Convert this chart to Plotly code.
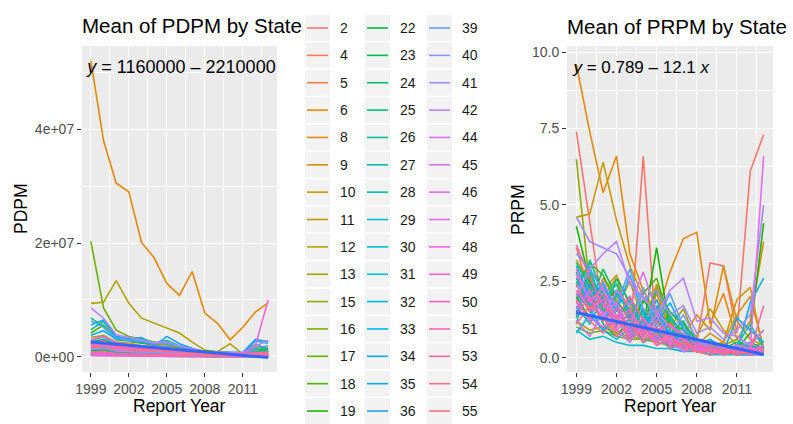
import math
import plotly.graph_objects as go

# ---------------------------------------------------------------- data
years = list(range(1999, 2014))

states = [2, 4, 5, 6, 8, 9, 10, 11, 12, 13, 15, 16, 17, 18, 19,
          22, 23, 24, 25, 26, 27, 28, 29, 30, 31, 32, 33, 34, 35, 36,
          39, 40, 41, 42, 44, 45, 46, 47, 48, 49, 50, 51, 53, 54, 55]

# mean PDPM per state and year, in millions (1999 ... 2013)
pdpm_millions = [
    [1.2, 1.0, 0.8, 0.9, 0.7, 0.6, 0.5, 0.5, 0.4, 0.4, 0.3, 0.3, 0.3, 0.4, 0.3],    # 2
    [2.4, 2.9, 2.0, 1.8, 1.6, 1.5, 1.3, 1.0, 0.8, 0.6, 0.5, 0.5, 0.6, 0.9, 1.1],    # 4
    [1.5, 1.7, 1.1, 1.0, 0.9, 0.8, 0.8, 0.6, 0.5, 0.4, 0.4, 0.3, 0.3, 0.4, 0.5],    # 5
    [52.0, 38.0, 30.5, 29.0, 20.1, 17.4, 12.9, 10.8, 15.0, 7.7, 5.9, 3.0, 5.2, 7.9, 9.5],  # 6
    [2.0, 2.2, 1.6, 1.4, 1.5, 1.1, 1.0, 0.9, 0.7, 0.5, 0.5, 0.4, 0.5, 0.6, 0.7],    # 8
    [1.6, 1.4, 1.0, 1.1, 0.9, 0.7, 0.8, 0.6, 0.5, 0.4, 0.4, 0.3, 0.4, 0.5, 0.4],    # 9
    [0.5, 0.4, 0.4, 0.3, 0.3, 0.3, 0.2, 0.2, 0.2, 0.1, 0.1, 0.1, 0.1, 0.1, 0.1],    # 10
    [0.3, 0.3, 0.2, 0.2, 0.2, 0.2, 0.2, 0.1, 0.1, 0.1, 0.1, 0.1, 0.1, 0.1, 0.1],    # 11
    [9.4, 9.6, 13.4, 9.4, 6.8, 5.9, 5.1, 4.2, 2.6, 1.2, 0.9, 2.3, 0.5, 1.0, 1.5],   # 12
    [3.4, 3.8, 2.6, 2.4, 2.6, 2.0, 1.9, 1.6, 1.2, 0.9, 0.8, 0.7, 0.6, 1.2, 1.6],    # 13
    [0.4, 0.5, 0.3, 0.3, 0.3, 0.2, 0.2, 0.2, 0.2, 0.1, 0.1, 0.1, 0.1, 0.1, 0.1],    # 15
    [0.5, 0.6, 0.4, 0.4, 0.3, 0.3, 0.3, 0.2, 0.2, 0.2, 0.2, 0.1, 0.1, 0.2, 0.2],    # 16
    [20.3, 8.6, 4.7, 3.6, 3.1, 2.6, 2.1, 1.7, 1.3, 1.0, 0.8, 0.7, 0.6, 1.5, 0.8],   # 17
    [4.2, 5.6, 3.0, 2.8, 2.4, 2.1, 2.5, 1.7, 1.2, 1.0, 0.8, 0.7, 0.6, 1.8, 0.9],    # 18
    [1.1, 1.3, 0.9, 0.8, 0.7, 0.6, 0.6, 0.5, 0.4, 0.3, 0.3, 0.3, 0.3, 0.4, 0.3],    # 19
    [2.2, 2.8, 1.9, 1.7, 1.8, 1.4, 1.6, 1.1, 0.9, 0.6, 0.5, 0.5, 0.6, 0.8, 0.9],    # 22
    [0.4, 0.4, 0.3, 0.3, 0.3, 0.2, 0.2, 0.2, 0.1, 0.1, 0.1, 0.1, 0.1, 0.1, 0.1],    # 23
    [2.6, 3.1, 2.2, 2.0, 1.8, 1.6, 1.5, 1.2, 1.0, 0.7, 0.6, 0.6, 0.6, 0.9, 1.0],    # 24
    [6.8, 5.4, 3.2, 2.9, 2.6, 2.2, 2.4, 1.8, 1.3, 0.9, 0.8, 0.7, 0.7, 2.2, 1.4],    # 25
    [4.8, 6.2, 3.4, 3.0, 3.3, 2.4, 2.9, 1.9, 1.4, 0.9, 0.8, 0.7, 0.6, 1.6, 1.2],    # 26
    [1.8, 2.0, 1.4, 1.2, 1.1, 1.0, 0.9, 0.8, 0.6, 0.5, 0.4, 0.4, 0.4, 0.5, 0.6],    # 27
    [0.9, 1.0, 0.7, 0.6, 0.6, 0.5, 0.5, 0.4, 0.3, 0.3, 0.2, 0.2, 0.2, 0.3, 0.3],    # 28
    [2.9, 3.5, 2.3, 2.1, 2.0, 1.7, 1.8, 1.3, 1.0, 0.7, 0.6, 0.5, 0.6, 1.0, 0.9],    # 29
    [0.3, 0.3, 0.2, 0.2, 0.2, 0.2, 0.1, 0.1, 0.1, 0.1, 0.1, 0.1, 0.1, 0.1, 0.1],    # 30
    [0.6, 0.7, 0.5, 0.4, 0.4, 0.4, 0.3, 0.3, 0.2, 0.2, 0.2, 0.2, 0.2, 0.2, 0.2],    # 31
    [0.8, 0.9, 0.6, 0.6, 0.5, 0.5, 0.4, 0.4, 0.3, 0.3, 0.2, 0.2, 0.2, 0.3, 0.3],    # 32
    [0.5, 0.5, 0.4, 0.3, 0.3, 0.3, 0.3, 0.2, 0.2, 0.2, 0.1, 0.1, 0.1, 0.2, 0.2],    # 33
    [3.8, 4.6, 3.1, 3.0, 2.7, 2.3, 2.6, 1.8, 1.3, 0.9, 0.8, 0.7, 0.7, 2.8, 2.4],    # 34
    [0.4, 0.5, 0.3, 0.3, 0.3, 0.3, 0.2, 0.2, 0.2, 0.1, 0.1, 0.1, 0.1, 0.1, 0.1],    # 35
    [5.6, 6.5, 3.6, 3.2, 3.4, 1.9, 3.6, 2.3, 1.5, 0.8, 0.8, 0.7, 0.8, 3.1, 2.7],    # 36
    [6.3, 5.2, 3.3, 2.9, 2.8, 2.3, 2.3, 1.9, 1.4, 0.9, 0.8, 0.7, 0.7, 1.4, 2.0],    # 39
    [1.3, 1.5, 1.0, 0.9, 0.8, 0.8, 0.7, 0.6, 0.5, 0.4, 0.3, 0.3, 0.3, 0.4, 0.4],    # 40
    [1.4, 1.6, 1.1, 1.0, 0.9, 0.8, 0.8, 0.6, 0.5, 0.4, 0.4, 0.3, 0.3, 0.4, 0.5],    # 41
    [8.6, 6.8, 3.9, 3.4, 3.0, 2.5, 2.6, 1.9, 1.4, 0.9, 0.8, 0.7, 0.7, 1.9, 2.9],    # 42
    [0.3, 0.4, 0.3, 0.2, 0.2, 0.2, 0.2, 0.1, 0.1, 0.1, 0.1, 0.1, 0.1, 0.1, 0.1],    # 44
    [1.9, 2.1, 1.5, 1.3, 1.2, 1.1, 1.0, 0.8, 0.6, 0.5, 0.4, 0.4, 0.4, 0.6, 0.6],    # 45
    [0.3, 0.3, 0.2, 0.2, 0.2, 0.2, 0.1, 0.1, 0.1, 0.1, 0.1, 0.1, 0.1, 0.1, 0.1],    # 46
    [2.3, 2.6, 1.8, 1.6, 1.5, 1.3, 1.2, 1.0, 0.8, 0.6, 0.5, 0.5, 0.5, 0.7, 0.8],    # 47
    [3.0, 3.6, 2.5, 2.2, 2.0, 1.8, 1.7, 1.3, 1.0, 0.7, 0.6, 0.6, 0.6, 2.0, 10.0],   # 48
    [0.6, 0.7, 0.5, 0.4, 0.4, 0.3, 0.3, 0.3, 0.2, 0.2, 0.2, 0.1, 0.1, 0.2, 0.2],    # 49
    [0.2, 0.2, 0.2, 0.1, 0.1, 0.1, 0.1, 0.1, 0.1, 0.1, 0.1, 0.0, 0.0, 0.1, 0.1],    # 50
    [2.5, 2.8, 1.9, 1.7, 1.6, 1.4, 1.3, 1.0, 0.8, 0.6, 0.5, 0.5, 0.5, 0.7, 0.8],    # 51
    [2.1, 2.4, 1.7, 1.5, 1.4, 1.2, 1.1, 0.9, 0.7, 0.5, 0.5, 0.4, 0.4, 0.6, 0.7],    # 53
    [0.8, 0.9, 0.6, 0.5, 0.5, 0.4, 0.4, 0.3, 0.3, 0.2, 0.2, 0.2, 0.2, 0.2, 0.3],    # 54
    [1.7, 1.9, 1.3, 1.2, 1.1, 1.0, 0.9, 0.7, 0.6, 0.5, 0.4, 0.4, 0.4, 0.5, 0.6],    # 55
]

# mean PRPM per state and year (1999 ... 2013)
prpm = [
    [7.4, 4.4, 1.5, 0.9, 0.6, 6.6, 0.5, 1.2, 0.6, 0.5, 3.1, 3.0, 0.8, 6.1, 7.3],    # 2
    [3.6, 2.1, 1.2, 1.6, 0.9, 1.3, 0.7, 0.8, 0.5, 0.3, 0.4, 0.2, 0.3, 0.5, 0.9],    # 4
    [1.8, 2.6, 1.4, 0.8, 1.1, 0.6, 1.0, 0.4, 0.6, 0.2, 0.3, 0.5, 0.2, 0.4, 0.3],    # 5
    [9.6, 7.4, 5.4, 6.6, 3.4, 2.2, 1.4, 2.8, 3.9, 4.1, 1.1, 2.1, 0.6, 1.2, 3.8],    # 6
    [2.2, 1.5, 2.6, 1.9, 1.2, 0.8, 2.1, 0.9, 0.7, 1.4, 0.9, 3.0, 1.2, 0.6, 0.4],    # 8
    [1.4, 2.9, 2.2, 2.7, 1.7, 1.0, 2.4, 1.3, 0.6, 0.4, 0.8, 0.5, 1.9, 2.3, 0.2],    # 9
    [4.6, 4.7, 6.4, 4.5, 3.0, 2.0, 1.6, 1.1, 0.9, 0.6, 0.4, 0.5, 1.4, 2.0, 0.3],    # 10
    [2.7, 1.9, 2.3, 1.6, 2.5, 1.2, 2.2, 1.5, 1.0, 0.7, 1.6, 0.9, 0.4, 0.3, 0.2],    # 11
    [1.2, 0.9, 1.0, 0.8, 0.7, 0.6, 0.6, 0.5, 0.4, 0.3, 0.3, 0.3, 0.2, 0.2, 0.2],    # 12
    [3.2, 2.4, 2.0, 2.6, 1.3, 1.8, 2.3, 1.0, 1.6, 0.5, 0.3, 0.4, 0.6, 0.2, 0.1],    # 13
    [6.5, 2.3, 1.9, 2.4, 1.5, 1.1, 1.3, 0.8, 0.5, 0.3, 0.4, 0.2, 0.3, 0.2, 0.1],    # 15
    [1.9, 2.7, 1.6, 1.3, 2.0, 0.9, 1.7, 0.6, 0.4, 0.6, 0.3, 0.2, 0.4, 0.3, 0.5],    # 16
    [1.0, 0.8, 0.9, 0.7, 0.6, 0.6, 0.5, 0.4, 0.4, 0.3, 0.2, 0.2, 0.2, 0.2, 0.2],    # 17
    [2.4, 3.1, 2.7, 1.8, 1.4, 2.1, 2.6, 1.2, 0.9, 0.5, 0.3, 0.4, 0.2, 0.3, 0.2],    # 18
    [4.3, 2.5, 1.8, 2.2, 1.4, 1.0, 3.6, 0.9, 0.7, 0.4, 0.3, 0.2, 0.3, 0.8, 4.4],    # 19
    [2.0, 1.3, 2.3, 1.7, 0.9, 1.9, 1.2, 0.8, 1.2, 0.4, 0.6, 0.3, 0.2, 0.5, 0.3],    # 22
    [1.6, 2.2, 1.1, 0.7, 1.3, 0.5, 0.9, 0.3, 0.5, 0.2, 0.1, 0.3, 0.1, 0.2, 0.1],    # 23
    [2.6, 1.7, 2.9, 2.0, 1.6, 1.1, 2.2, 1.5, 1.1, 0.6, 0.4, 0.3, 0.5, 0.4, 0.2],    # 24
    [3.1, 2.3, 1.4, 2.6, 1.8, 1.3, 1.0, 1.4, 0.7, 0.3, 0.5, 0.2, 0.3, 0.2, 0.2],    # 25
    [1.3, 3.2, 2.1, 1.0, 1.5, 0.7, 1.3, 0.6, 0.3, 0.5, 0.2, 0.2, 0.1, 0.3, 0.2],    # 26
    [2.8, 1.5, 1.2, 1.8, 0.8, 1.6, 0.6, 1.1, 0.4, 0.2, 0.3, 0.1, 0.2, 0.1, 0.2],    # 27
    [2.3, 3.0, 1.5, 1.2, 1.9, 1.0, 1.5, 0.7, 0.5, 0.3, 0.2, 0.3, 0.2, 0.3, 0.2],    # 28
    [1.1, 2.8, 1.9, 2.4, 1.2, 1.5, 0.8, 1.3, 0.6, 0.4, 0.3, 0.2, 0.4, 1.1, 0.3],    # 29
    [0.9, 0.6, 0.7, 0.5, 0.4, 0.4, 0.3, 0.3, 0.2, 0.2, 0.1, 0.1, 0.1, 0.1, 0.1],    # 30
    [1.7, 1.1, 2.0, 1.4, 0.7, 1.2, 0.5, 0.9, 0.3, 0.2, 0.4, 0.2, 0.1, 0.2, 0.1],    # 31
    [2.5, 1.8, 1.2, 2.1, 1.5, 0.8, 1.7, 0.5, 0.4, 0.6, 0.2, 0.3, 0.2, 0.4, 0.2],    # 32
    [0.8, 1.4, 0.9, 0.6, 1.0, 0.5, 0.7, 0.3, 0.2, 0.3, 0.1, 0.2, 0.1, 0.1, 0.1],    # 33
    [3.0, 2.0, 2.4, 1.5, 2.7, 1.4, 1.1, 1.8, 0.9, 0.4, 0.6, 0.3, 0.2, 1.8, 2.6],    # 34
    [2.1, 1.6, 0.9, 1.3, 0.6, 1.1, 0.8, 0.4, 0.3, 0.2, 0.2, 0.1, 0.3, 0.2, 0.1],    # 35
    [1.5, 2.4, 1.8, 1.1, 1.4, 0.9, 1.9, 0.7, 0.6, 0.3, 0.3, 0.2, 1.3, 0.9, 0.5],    # 36
    [3.4, 2.9, 2.2, 1.7, 2.9, 1.6, 1.2, 2.1, 1.0, 0.5, 0.4, 0.3, 0.2, 0.3, 0.2],    # 39
    [1.9, 1.2, 2.5, 1.6, 1.0, 2.3, 0.9, 0.8, 1.4, 0.6, 0.3, 0.2, 0.3, 0.5, 0.2],    # 40
    [4.6, 3.8, 3.6, 3.4, 2.6, 1.9, 2.2, 1.4, 1.7, 0.8, 1.0, 0.6, 0.9, 1.4, 5.0],    # 41
    [2.0, 2.9, 3.4, 3.8, 2.4, 2.0, 1.4, 2.2, 2.6, 1.2, 1.3, 0.8, 0.7, 0.4, 0.9],    # 42
    [1.2, 0.7, 1.5, 0.9, 0.5, 1.1, 0.4, 0.6, 0.2, 0.3, 0.2, 0.1, 0.2, 0.1, 0.1],    # 44
    [2.7, 1.9, 1.3, 2.2, 1.7, 2.8, 1.5, 1.0, 0.8, 0.4, 0.5, 0.3, 0.4, 0.3, 0.2],    # 45
    [1.6, 2.2, 1.4, 1.8, 0.9, 1.3, 0.7, 0.5, 0.4, 0.3, 0.2, 0.2, 0.3, 0.3, 6.6],    # 46
    [2.9, 1.8, 2.3, 1.2, 1.6, 0.8, 1.4, 0.6, 0.5, 0.3, 0.4, 0.2, 0.3, 0.2, 0.4],    # 47
    [1.8, 1.3, 1.0, 1.4, 0.7, 1.0, 0.6, 0.5, 0.3, 0.2, 0.2, 0.2, 0.2, 0.3, 0.3],    # 48
    [2.2, 1.6, 1.9, 0.9, 1.3, 0.6, 1.0, 0.4, 0.7, 0.2, 0.3, 0.1, 0.2, 0.1, 0.2],    # 49
    [1.4, 2.0, 1.2, 1.6, 0.8, 1.1, 0.5, 0.8, 0.3, 0.4, 0.2, 0.2, 0.1, 0.2, 0.1],    # 50
    [3.7, 2.6, 1.7, 1.3, 2.0, 1.2, 0.9, 1.1, 0.6, 0.3, 0.4, 0.2, 0.3, 0.2, 0.3],    # 51
    [2.4, 1.5, 2.1, 1.0, 1.5, 0.7, 1.2, 0.5, 0.4, 0.5, 0.2, 0.3, 0.2, 0.2, 1.7],    # 53
    [1.9, 1.2, 0.8, 1.3, 0.6, 0.9, 0.4, 0.7, 0.3, 0.2, 0.3, 0.1, 0.2, 0.1, 0.2],    # 54
    [1.1, 1.7, 1.3, 0.7, 1.1, 0.5, 0.8, 0.3, 0.5, 0.2, 0.1, 0.2, 0.1, 0.2, 0.1],    # 55
]

# linear fits (fitted values at the first and last report year)
trend_years = [1999, 2013]
pdpm_trend_millions = [2.6, -0.1]
prpm_trend = [1.48, 0.10]

pdpm_equation = "<i>y</i> = 1160000 \u2013 2210000 <i>x</i>"
prpm_equation = "<i>y</i> = 0.789 \u2013 12.1 <i>x</i>"

year_ticks = [1999, 2002, 2005, 2008, 2011]
pdpm_ticks = [0, 2e7, 4e7]
prpm_ticks = [0, 2.5, 5.0, 7.5, 10.0]


# ---------------------------------------------------------------- colours
def hcl_hex(h, c=100.0, l=65.0):
    """Polar CIE-Luv -> sRGB hex (same maths as R's grDevices::hcl)."""
    wy, wu, wv = 1.0, 0.1978398, 0.4683363
    hr = math.radians(h)
    U, V = c * math.cos(hr), c * math.sin(hr)
    Y = wy * (((l + 16) / 116) ** 3 if l > 7.999592 else l / 903.3)
    u = U / (13 * l) + wu
    v = V / (13 * l) + wv
    X = 9.0 * Y * u / (4 * v)
    Z = -X / 3 - 5 * Y + 3 * Y / v

    def gtrans(t):
        t = 1.055 * t ** (1 / 2.4) - 0.055 if t > 0.00304 else 12.92 * t
        return int(round(255 * min(1.0, max(0.0, t))))

    r = gtrans(3.240479 * X - 1.537150 * Y - 0.498535 * Z)
    g = gtrans(-0.969256 * X + 1.875992 * Y + 0.041556 * Z)
    b = gtrans(0.055648 * X - 0.204043 * Y + 1.057311 * Z)
    return "#{:02X}{:02X}{:02X}".format(r, g, b)


n = len(states)
colours = [hcl_hex(15 + 360 * i / n) for i in range(n)]

# ---------------------------------------------------------------- layout helpers
W, H = 793, 424
FONT = "Liberation Sans, Arial, sans-serif"


def px_x(p):
    return p / W


def px_y(p):
    return (H - p) / H


panel_top, panel_bottom = 46, 372
left_panel = (82, 277)
right_panel = (567, 773)
legend_box = (295, 492)

fig = go.Figure()

# ---------------------------------------------------------------- state lines
for i, st in enumerate(states):
    fig.add_trace(go.Scatter(
        x=years, y=[v * 1e6 for v in pdpm_millions[i]], mode="lines",
        line=dict(color=colours[i], width=1.6), xaxis="x", yaxis="y",
        showlegend=False, hoverinfo="skip"))
for i, st in enumerate(states):
    fig.add_trace(go.Scatter(
        x=years, y=prpm[i], mode="lines",
        line=dict(color=colours[i], width=1.6), xaxis="x2", yaxis="y2",
        showlegend=False, hoverinfo="skip"))

# fitted lines
fig.add_trace(go.Scatter(x=trend_years, y=[v * 1e6 for v in pdpm_trend_millions],
                         mode="lines", line=dict(color="#3366FF", width=3),
                         xaxis="x", yaxis="y", showlegend=False, hoverinfo="skip"))
fig.add_trace(go.Scatter(x=trend_years, y=prpm_trend,
                         mode="lines", line=dict(color="#3366FF", width=3),
                         xaxis="x2", yaxis="y2", showlegend=False, hoverinfo="skip"))

# fit equations (clipped to the panel)
x_rng = [1998.3, 2013.7]
pdpm_rng = [-2.65e6, 5.46e7]
prpm_rng = [-0.47, 10.2]
fig.add_trace(go.Scatter(x=[1998.72], y=[pdpm_rng[1] - 0.07 * (pdpm_rng[1] - pdpm_rng[0])],
                         mode="text", text=[pdpm_equation], textposition="middle right",
                         textfont=dict(family=FONT, size=18, color="black"),
                         cliponaxis=True, xaxis="x", yaxis="y", showlegend=False,
                         hoverinfo="skip"))
fig.add_trace(go.Scatter(x=[1998.78], y=[prpm_rng[1] - 0.07 * (prpm_rng[1] - prpm_rng[0])],
                         mode="text", text=[prpm_equation], textposition="middle right",
                         textfont=dict(family=FONT, size=17, color="black"),
                         cliponaxis=True, xaxis="x2", yaxis="y2", showlegend=False,
                         hoverinfo="skip"))

# ---------------------------------------------------------------- panel backgrounds
shapes = [
    dict(type="rect", xref="x domain", yref="y domain", x0=0, x1=1, y0=0, y1=1,
         fillcolor="#EBEBEB", line=dict(width=0), layer="below"),
    dict(type="rect", xref="x2 domain", yref="y2 domain", x0=0, x1=1, y0=0, y1=1,
         fillcolor="#EBEBEB", line=dict(width=0), layer="below"),
]

# ---------------------------------------------------------------- legend (3 columns)
rows = 15
row0, row_step = 28, 27.36
key_left = [305, 365, 427]
key_w = 25
annotations = []
for i, st in enumerate(states):
    col, row = divmod(i, rows)
    cy = row0 + row * row_step
    x0 = key_left[col]
    shapes.append(dict(type="rect", xref="x3", yref="y3", x0=x0, x1=x0 + key_w,
                       y0=cy - row_step / 2 + 0.8, y1=cy + row_step / 2 - 0.8,
                       fillcolor="#F2F2F2", line=dict(width=0), layer="below"))
    fig.add_trace(go.Scatter(x=[x0 + 2, x0 + key_w - 2], y=[cy, cy], mode="lines",
                             line=dict(color=colours[i], width=1.6),
                             xaxis="x3", yaxis="y3", showlegend=False, hoverinfo="skip"))
    annotations.append(dict(x=x0 + key_w + 8, y=cy, xref="x3", yref="y3",
                            text=str(st), showarrow=False, xanchor="left",
                            yanchor="middle",
                            font=dict(family=FONT, size=14, color="#1A1A1A")))

# ---------------------------------------------------------------- titles
title_font = dict(family=FONT, size=20.5, color="black")
axis_title_font = dict(family=FONT, size=17.5, color="black")
annotations += [
    dict(x=px_x(left_panel[0] - 2), y=px_y(25), xref="paper", yref="paper",
         text="Mean of PDPM by State", showarrow=False, xanchor="left",
         yanchor="middle", font=title_font),
    dict(x=px_x(right_panel[0] - 2), y=px_y(26), xref="paper", yref="paper",
         text="Mean of PRPM by State", showarrow=False, xanchor="left",
         yanchor="middle", font=title_font),
    dict(x=px_x(sum(left_panel) / 2), y=px_y(406), xref="paper", yref="paper",
         text="Report Year", showarrow=False, xanchor="center", yanchor="middle",
         font=axis_title_font),
    dict(x=px_x(sum(right_panel) / 2), y=px_y(406), xref="paper", yref="paper",
         text="Report Year", showarrow=False, xanchor="center", yanchor="middle",
         font=axis_title_font),
    dict(x=px_x(21), y=px_y(209), xref="paper", yref="paper", text="PDPM",
         showarrow=False, textangle=-90, xanchor="center", yanchor="middle",
         font=axis_title_font),
    dict(x=px_x(518), y=px_y(210), xref="paper", yref="paper", text="PRPM",
         showarrow=False, textangle=-90, xanchor="center", yanchor="middle",
         font=axis_title_font),
]

# ---------------------------------------------------------------- axes
tick_font = dict(family=FONT, size=14, color="#4D4D4D")


def x_axis(dom, anchor):
    return dict(domain=[px_x(dom[0]), px_x(dom[1])], anchor=anchor, range=x_rng,
                tickvals=year_ticks, ticktext=[str(y) for y in year_ticks],
                ticks="outside", ticklen=4, tickwidth=1.1, tickcolor="#333333",
                tickfont=tick_font, showgrid=True, gridcolor="white", gridwidth=1.1,
                zeroline=False, showline=False, fixedrange=True, automargin=False,
                minor=dict(tickvals=[y + 1.5 for y in year_ticks], showgrid=True,
                           gridcolor="white", gridwidth=0.55, ticks=""))


def y_axis(anchor, rng, ticks, labels):
    step = ticks[1] - ticks[0]
    minors = [t + step / 2 for t in ticks if t + step / 2 < rng[1]]
    return dict(domain=[px_y(panel_bottom), px_y(panel_top)], anchor=anchor, range=rng,
                tickvals=ticks, ticktext=labels, ticks="outside", ticklen=4,
                tickwidth=1.1, tickcolor="#333333", tickfont=tick_font,
                showgrid=True, gridcolor="white", gridwidth=1.1, zeroline=False,
                showline=False, fixedrange=True, automargin=False,
                minor=dict(tickvals=minors, showgrid=True, gridcolor="white",
                           gridwidth=0.55, ticks=""))


fig.update_layout(
    width=W, height=H, margin=dict(l=0, r=0, t=0, b=0),
    paper_bgcolor="white", plot_bgcolor="white",
    showlegend=False, shapes=shapes, annotations=annotations,
    xaxis=x_axis(left_panel, "y"),
    yaxis=y_axis("x", pdpm_rng, pdpm_ticks, ["{:.0e}".format(t) for t in pdpm_ticks]),
    xaxis2=x_axis(right_panel, "y2"),
    yaxis2=y_axis("x2", prpm_rng, prpm_ticks, ["{:.1f}".format(t) for t in prpm_ticks]),
    xaxis3=dict(domain=[px_x(legend_box[0]), px_x(legend_box[1])], anchor="y3",
                range=list(legend_box), visible=False, fixedrange=True),
    yaxis3=dict(domain=[0, 1], anchor="x3", range=[H, 0], visible=False,
                fixedrange=True),
)

fig.write_html("out.html", config={"displayModeBar": False})
